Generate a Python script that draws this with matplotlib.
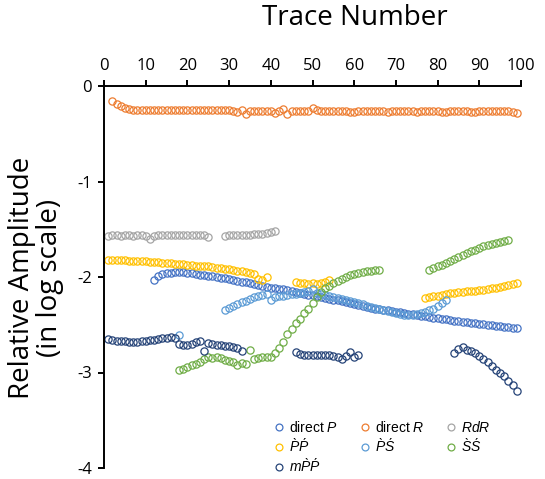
import matplotlib
matplotlib.use('Agg')
import matplotlib.pyplot as plt
import numpy as np

plt.rcParams['font.family'] = ['Open Sans', 'DejaVu Sans']
plt.rcParams['mathtext.fontset'] = 'custom'
plt.rcParams['mathtext.rm'] = 'Liberation Sans'
plt.rcParams['mathtext.it'] = 'Liberation Sans:italic'

# ===== data (log10 relative amplitude per trace) =====
direct_p_start = 12
direct_p = [-2.03, -1.99, -1.97, -1.96, -1.955, -1.95, -1.95, -1.95, -1.96, -1.96,
            -1.97, -1.98, -1.98, -1.99, -1.99, -2.00, -2.01, -2.01, -2.02, -2.03,
            -2.04, -2.05, -2.05, -2.06, -2.07, -2.08, -2.09, -2.10, -2.11, -2.12,
            -2.13, -2.13, -2.14, -2.15, -2.16, -2.17, -2.18, -2.19, -2.19, -2.20,
            -2.21, -2.22, -2.23, -2.24, -2.24, -2.25, -2.26, -2.27, -2.28, -2.29,
            -2.30, -2.31, -2.32, -2.33, -2.34, -2.35, -2.35, -2.36, -2.37, -2.37,
            -2.38, -2.39, -2.39, -2.40, -2.41, -2.41, -2.42, -2.43, -2.43, -2.44,
            -2.44, -2.45, -2.46, -2.46, -2.47, -2.47, -2.48, -2.48, -2.49, -2.49,
            -2.50, -2.50, -2.51, -2.51, -2.52, -2.52, -2.53, -2.53]

direct_r_start = 2
direct_r = [-0.16, -0.19, -0.21, -0.23, -0.24, -0.25, -0.25, -0.25, -0.25, -0.25,
            -0.25, -0.25, -0.25, -0.25, -0.25, -0.25, -0.25, -0.25, -0.25, -0.25,
            -0.25, -0.25, -0.25, -0.25, -0.25, -0.25, -0.25, -0.25, -0.25, -0.26,
            -0.27, -0.25, -0.29, -0.26, -0.26, -0.26, -0.26, -0.26, -0.26, -0.28,
            -0.26, -0.24, -0.29, -0.26, -0.26, -0.26, -0.26, -0.26, -0.23, -0.25,
            -0.26, -0.26, -0.26, -0.26, -0.26, -0.26, -0.26, -0.27, -0.27, -0.26,
            -0.26, -0.26, -0.26, -0.26, -0.26, -0.26, -0.27, -0.26, -0.26, -0.26,
            -0.26, -0.26, -0.26, -0.27, -0.26, -0.26, -0.26, -0.26, -0.26, -0.27,
            -0.27, -0.26, -0.26, -0.26, -0.26, -0.26, -0.27, -0.27, -0.26, -0.26,
            -0.26, -0.26, -0.26, -0.26, -0.26, -0.26, -0.27, -0.28]

rdr_start = [1, 29]
rdr = [[-1.57, -1.56, -1.56, -1.57, -1.56, -1.56, -1.57, -1.56, -1.56, -1.57,
        -1.60, -1.57, -1.56, -1.56, -1.56, -1.56, -1.56, -1.56, -1.56, -1.56,
        -1.56, -1.56, -1.56, -1.56, -1.58],
       [-1.57, -1.56, -1.56, -1.56, -1.56, -1.56, -1.56, -1.55, -1.55, -1.55,
        -1.54, -1.53, -1.52]]

pp_start = [1, 46, 77]
pp = [[-1.82, -1.82, -1.82, -1.82, -1.82, -1.83, -1.83, -1.83, -1.83, -1.83,
       -1.84, -1.84, -1.84, -1.85, -1.85, -1.85, -1.86, -1.86, -1.86, -1.87,
       -1.87, -1.88, -1.88, -1.89, -1.89, -1.90, -1.91, -1.91, -1.92, -1.92,
       -1.93, -1.94, -1.94, -1.95, -1.96, -1.97, -2.02, -2.03, -2.00],
      [-2.05, -2.06, -2.06, -2.07, -2.06, -2.07, -2.06, -2.05, -2.03],
      [-2.22, -2.21, -2.20, -2.20, -2.19, -2.18, -2.17, -2.17, -2.16, -2.16,
       -2.15, -2.15, -2.15, -2.14, -2.14, -2.13, -2.12, -2.11, -2.10, -2.09,
       -2.08, -2.07, -2.06]]

ps_start = [18, 29]
ps = [[-2.61],
      [-2.35, -2.32, -2.30, -2.28, -2.26, -2.25, -2.23, -2.21, -2.20, -2.19,
       -2.18, -2.24, -2.21, -2.20, -2.20, -2.19, -2.18, -2.18, -2.17, -2.16,
       -2.15, -2.13, -2.17, -2.18, -2.19, -2.20, -2.21, -2.22, -2.23, -2.24,
       -2.25, -2.26, -2.27, -2.28, -2.30, -2.31, -2.32, -2.34, -2.35, -2.36,
       -2.37, -2.38, -2.39, -2.40, -2.40, -2.40, -2.39, -2.38, -2.37, -2.35,
       -2.33, -2.30, -2.27, -2.24]]

ss_start = [18, 78]
ss = [[-2.97, -2.96, -2.94, -2.92, -2.91, -2.89, -2.86, -2.84, -2.85, -2.84,
       -2.85, -2.87, -2.88, -2.89, -2.92, -2.90, -2.91, -2.76, -2.86, -2.85,
       -2.84, -2.84, -2.84, -2.80, -2.74, -2.68, -2.60, -2.54, -2.48, -2.44,
       -2.38, -2.33, -2.27, -2.21, -2.16, -2.12, -2.09, -2.06, -2.04, -2.02,
       -2.00, -1.98, -1.97, -1.96, -1.95, -1.94, -1.94, -1.93, -1.93],
      [-1.93, -1.91, -1.89, -1.87, -1.85, -1.83, -1.81, -1.79, -1.77, -1.75,
       -1.73, -1.72, -1.70, -1.68, -1.67, -1.65, -1.64, -1.63, -1.62, -1.61]]

mpp_start = [1, 46, 84]
mpp = [[-2.65, -2.66, -2.67, -2.67, -2.67, -2.68, -2.68, -2.68, -2.67, -2.67,
        -2.66, -2.66, -2.65, -2.64, -2.64, -2.63, -2.64, -2.70, -2.71, -2.71,
        -2.70, -2.68, -2.67, -2.77, -2.69, -2.70, -2.71, -2.71, -2.72, -2.72,
        -2.73, -2.74, -2.78],
       [-2.79, -2.81, -2.82, -2.82, -2.82, -2.82, -2.82, -2.82, -2.82, -2.83,
        -2.84, -2.86, -2.83, -2.79, -2.84, -2.82],
       [-2.80, -2.75, -2.73, -2.76, -2.78, -2.80, -2.83, -2.86, -2.89, -2.93,
        -2.97, -3.01, -3.04, -3.09, -3.13, -3.19]]

series = [
    ('direct $P$', '#4472C4', [direct_p_start], [direct_p]),
    ('direct $R$', '#ED7D31', [direct_r_start], [direct_r]),
    ('$RdR$', '#A5A5A5', rdr_start, rdr),
    ('$\\grave{P}\\acute{P}$', '#FFC000', pp_start, pp),
    ('$\\grave{P}\\acute{S}$', '#5B9BD5', ps_start, ps),
    ('$\\grave{S}\\acute{S}$', '#70AD47', ss_start, ss),
    ('$m\\grave{P}\\acute{P}$', '#264478', mpp_start, mpp),
]

fig = plt.figure(figsize=(5.45, 4.79), dpi=100)
ax = fig.add_axes([104 / 545, 1 - 468 / 479, 417 / 545, 382 / 479])

handles = {}
for label, color, starts, segs in series:
    xs, ys = [], []
    for s, vals in zip(starts, segs):
        xs += list(range(s, s + len(vals))) + [np.nan]
        ys += list(vals) + [np.nan]
    h, = ax.plot(xs, ys, 'o', ms=5.2, mfc='none', mec=color, mew=0.9,
                 label=label, clip_on=False)
    handles[label] = h

ax.set_xlim(0, 100)
ax.set_ylim(-4, 0)
ax.xaxis.tick_top()
ax.set_xticks(range(0, 101, 10))
ax.set_yticks([0, -1, -2, -3, -4])
ax.set_yticklabels(['0', '-1', '-2', '-3', '-4'])
ax.spines['bottom'].set_visible(False)
ax.spines['right'].set_visible(False)
for sp in ['top', 'left']:
    ax.spines[sp].set_linewidth(1.4)
ax.tick_params(axis='both', direction='out', length=4.5, width=1.4,
               labelsize=12, pad=4)

fig.text(355 / 545, 1 - 18 / 479, 'Trace Number', ha='center', va='center',
         fontsize=20)
fig.text(36 / 545, 1 - 278 / 479, 'Relative Amplitude\n(in log scale)',
         ha='center', va='center', rotation=90, fontsize=20,
         multialignment='center', linespacing=1.0)

order = ['direct $P$', '$\\grave{P}\\acute{P}$', '$m\\grave{P}\\acute{P}$',
         'direct $R$', '$\\grave{P}\\acute{S}$',
         '$RdR$', '$\\grave{S}\\acute{S}$']
leg = fig.legend([handles[k] for k in order], order, ncol=3,
                 loc='upper left', bbox_to_anchor=(261 / 545, 1 - 410 / 479),
                 frameon=False, prop={'family': 'Liberation Sans', 'size': 10},
                 handletextpad=0.1, columnspacing=1.35, labelspacing=0.18,
                 handlelength=1.2, markerscale=0.95, borderaxespad=0.3)

fig.savefig('out.png', dpi=100, facecolor='white')
